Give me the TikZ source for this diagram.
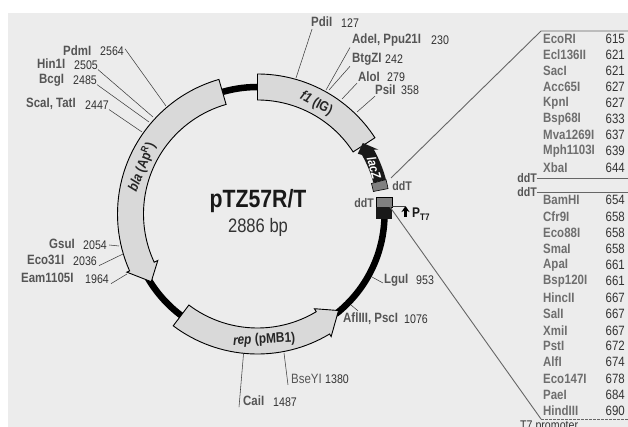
\documentclass[tikz,border=0pt]{standalone}
\usepackage{fontspec}
\setmainfont[FakeStretch=0.85]{Liberation Sans}
\usetikzlibrary{arrows.meta}
\definecolor{bgc}{HTML}{ECECEC}
\definecolor{band}{HTML}{D9D9D9}
\definecolor{namec}{HTML}{555555}
\definecolor{numc}{HTML}{333333}
\tikzset{
 enz/.style={anchor=west,inner sep=0pt,font=\fontsize{13.5}{14}\selectfont\bfseries,text=namec},
 num/.style={anchor=west,inner sep=0pt,font=\fontsize{12.5}{14}\selectfont,text=numc},
 lname/.style={anchor=west,inner sep=0pt,font=\fontsize{13.5}{14}\selectfont\bfseries,text=namec!85},
 lnum/.style={anchor=west,inner sep=0pt,font=\fontsize{13.5}{14}\selectfont,text=numc},
 lead/.style={draw=black!75,line width=0.55pt},
 guide/.style={draw=black!60,line width=0.9pt},
 feat/.style={draw=black,fill=band,line width=0.9pt,line join=miter},
 back/.style={draw=black,line width=6.5pt,line cap=butt},
 tagd/.style={inner sep=0pt,font=\fontsize{12.5}{14}\selectfont\bfseries,text=namec},
 ringt/.style={inner sep=0pt,font=\fontsize{14}{15}\selectfont\bfseries,text=black!85},
}
\begin{document}
\begin{tikzpicture}[x=1pt,y=1pt]
\path[use as bounding box] (0,-427) rectangle (628,0);
\clip (0,-427) rectangle (628,0);
\fill[white] (0,-427) rectangle (628,0);
\fill[bgc] (8,-427) rectangle (628,-13);
\coordinate (c) at (257.5,-214);
\begin{scope}[shift={(c)}]
 \draw[back] (106:127) arc[start angle=106,end angle=88,radius=127];
 \draw[back] (2:127) arc[start angle=2,end angle=-52,radius=127];
 \draw[back] (234:127) arc[start angle=234,end angle=210,radius=127];
 \draw[feat] (106:140) arc[start angle=106,end angle=204,radius=140] -- (204:143) -- (212.5:126) -- (205:110) -- (205:114) arc[start angle=205,end angle=106,radius=114] -- cycle;
 \draw[feat] (233:140) arc[start angle=233,end angle=301,radius=140] -- (301:143) -- (310:126) -- (301:110.5) -- (301:114) arc[start angle=301,end angle=233,radius=114] -- cycle;
 \draw[feat] (90:140) arc[start angle=90,end angle=33,radius=140] -- (33:114) arc[start angle=33,end angle=90,radius=114] -- cycle;
 \fill[black!90] (15:133) arc[start angle=15,end angle=29,radius=133] -- (28:137) -- (34:127) -- (31:117) -- (29.5:120) arc[start angle=29.5,end angle=15,radius=119] -- cycle;
 \draw[black,fill=black!50,line width=0.6pt] (15:133) arc[start angle=15,end angle=11,radius=133] -- (11:118) arc[start angle=11,end angle=15,radius=118] -- cycle;
 \node[ringt,rotate=-28] (ftxt) at (62:125) {\textit{f1} (IG)};
 \node[ringt,rotate=68] (btxt) at (158:125) {\textit{bla} (Ap\textsuperscript{R})};
 \node[ringt,rotate=3] (rtxt) at (-87:126) {\textit{rep} (pMB1)};
 \node[ringt,text=white,rotate=-74,font=\fontsize{13}{14}\selectfont\bfseries] (ltxt) at (21.5:125.5) {\textit{lacZ}};
\end{scope}
\fill[black!50] (376,-197) rectangle (392,-207);
\draw[black,line width=0.6pt] (376,-197) rectangle (392,-207);
\fill[black!90] (376,-207) rectangle (392,-219);
\node[inner sep=0pt,font=\fontsize{25}{26}\selectfont\bfseries,text=black!90] (title) at (258,-201) {pTZ57R/T};
\node[inner sep=0pt,font=\fontsize{19.5}{21}\selectfont,text=black!80] (size) at (258,-227) {2886 bp};
% ring end points
\coordinate (a2564) at (166,-106);
\coordinate (a2505) at (153,-117);
\coordinate (a2485) at (149,-122);
\coordinate (a2447) at (142,-132);
\coordinate (a2054) at (119,-246);
\coordinate (a2036) at (123,-254);
\coordinate (a1964) at (127,-274);
\coordinate (a1487) at (243.5,-354);
\coordinate (a1380) at (284,-353);
\coordinate (a1076) at (351,-305);
\coordinate (a953) at (372,-277);
\coordinate (a127) at (296,-78);
\coordinate (a230) at (326,-90);
\coordinate (a242) at (329,-90);
\coordinate (a279) at (342,-99);
\coordinate (a358) at (357,-112);
% left labels
\node[enz] (Pdm) at (63,-51) {PdmI}; \node[num] (n2564) at (100,-51.5) {2564};
\node[enz] (Hin) at (37,-64) {Hin1I}; \node[num] (n2505) at (74,-65) {2505};
\node[enz] (Bcg) at (39,-80) {BcgI}; \node[num] (n2485) at (73,-80) {2485};
\node[enz] (Sca) at (26,-104) {ScaI, TatI}; \node[num] (n2447) at (85,-105) {2447};
\node[enz] (Gsu) at (49,-244) {GsuI}; \node[num] (n2054) at (83,-245) {2054};
\node[enz] (Eco) at (27,-260) {Eco31I}; \node[num] (n2036) at (73,-261) {2036};
\node[enz] (Eam) at (21,-278) {Eam1105I}; \node[num] (n1964) at (85,-279) {1964};
\node[enz] (Cai) at (243,-401) {CaiI}; \node[num] (n1487) at (273,-402) {1487};
\node[enz,font=\fontsize{13.5}{14}\selectfont] (Bse) at (291,-379) {BseYI}; \node[num] (n1380) at (325,-379) {1380};
\node[enz] (Afl) at (343,-319) {AflIII, PscI}; \node[num] (n1076) at (404,-319) {1076};
\node[enz] (Lgu) at (384,-280) {LguI}; \node[num] (n953) at (416,-280) {953};
\node[enz] (Pdi) at (311,-22) {PdiI}; \node[num] (n127) at (341,-23) {127};
\node[enz] (Ade) at (352,-40) {AdeI, Ppu21I}; \node[num] (n230) at (431,-40) {230};
\node[enz] (Btg) at (352,-59) {BtgZI}; \node[num] (n242) at (385,-59) {242};
\node[enz] (Alo) at (358,-77) {AloI}; \node[num] (n279) at (387,-77) {279};
\node[enz] (Psi) at (375,-90) {PsiI}; \node[num] (n358) at (401,-90) {358};
% leaders
\draw[lead] ([xshift=1pt,yshift=-2pt]n2564.north east) -- (a2564);
\draw[lead] (n2505.south east) -- (a2505);
\draw[lead] (n2485.south east) -- (a2485);
\draw[lead] (n2447.south east) -- (a2447);
\draw[lead] ([xshift=2pt]n2054.east) -- (a2054);
\draw[lead] ([xshift=2pt]n2036.south east) -- (a2036);
\draw[lead] ([xshift=2pt]n1964.south east) -- (a1964);
\draw[lead] ([xshift=-4pt,yshift=-1pt]Cai.south west) -- (a1487);
\draw[lead] ([xshift=-3pt,yshift=-1pt]Bse.south west) -- (a1380);
\draw[lead] ([xshift=15pt,yshift=2pt]Afl.north west) -- (a1076);
\draw[lead] ([xshift=-1pt,yshift=-3pt]Lgu.west) -- (a953);
\draw[lead] ([yshift=-2pt,xshift=1pt]Pdi.south west) -- (a127);
\draw[lead] ([xshift=-2pt,yshift=-1pt]Ade.south west) -- (a230);
\draw[lead] ([xshift=-2pt,yshift=-1pt]Btg.south west) -- (a242);
\draw[lead] ([xshift=-1pt,yshift=-1pt]Alo.south west) -- (a279);
\draw[lead] ([yshift=-1pt]Psi.south west) -- (a358);
% site lists
\coordinate (g1) at (391,-178);
\coordinate (g2) at (541,-31);
\coordinate (g3) at (628,-31);
\coordinate (g4) at (390,-207);
\coordinate (g5) at (541,-419);
\coordinate (g6) at (628,-419);
\draw[guide] (g1) -- (g2) -- (g3);
\draw[guide] (g4) -- (g5);
\draw[guide,dashed,dash pattern=on 3pt off 1pt] (g5) -- (g6);
\foreach \nm/\val/\yy in {EcoRI/615/39,Ecl136II/621/55,SacI/621/71,Acc65I/627/87,KpnI/627/103,Bsp68I/633/119,Mva1269I/637/135,Mph1103I/639/151,XbaI/644/168,BamHI/654/200,Cfr9I/658/217,Eco88I/658/233,SmaI/658/249,ApaI/661/265,Bsp120I/661/281,HincII/667/298,SalI/667/314,XmiI/667/331,PstI/672/346,AlfI/674/362,Eco147I/678/379,PaeI/684/395,HindIII/690/411}{
 \node[lname] (s\val\nm) at (543,-\yy) {\nm};
 \node[lnum] (v\val\nm) at (605.5,-\yy) {\val};
}
\node[tagd] (dl1) at (527,-178) {ddT};
\node[tagd] (dl2) at (527,-192) {ddT};
\coordinate (e1) at (628,-178);
\coordinate (e2) at (628,-192);
\draw[guide,line width=0.8pt] (dl1.east) -- (e1);
\draw[guide] (dl2.east) -- (e2);
\node[tagd] (dt1) at (402,-186) {ddT};
\node[tagd] (dt2) at (364,-203) {ddT};
\node[inner sep=0pt,font=\fontsize{12.5}{14}\selectfont,text=black!80,anchor=west] (tp) at (520,-426) {T7 promoter};
% T7 promoter mark
\coordinate (pa) at (405.5,-217);
\coordinate (pb) at (405.5,-206);
\coordinate (pc) at (392,-206);
\draw[-{Stealth[length=6pt,width=8pt]},line width=2.2pt,black] (pa) -- (pb);
\draw[lead] (pc) -- (pb);
\node[inner sep=0pt,anchor=west,font=\fontsize{14}{14}\selectfont\bfseries,text=black!90] (pt) at (412,-214) {P\raisebox{-3pt}{\fontsize{9.5}{10}\selectfont T7}};
\end{tikzpicture}
\end{document}
